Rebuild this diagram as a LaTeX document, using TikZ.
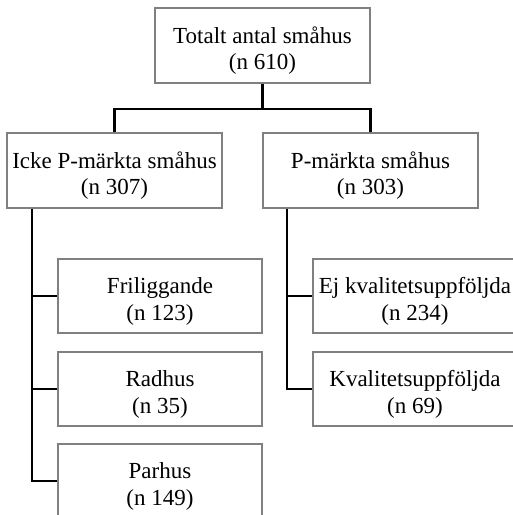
\documentclass[tikz,border=0pt]{standalone}
\usepackage{fontspec}
\setmainfont{Liberation Serif}
\newcommand\topstrut{\rule{0pt}{27pt}}
\begin{document}
\begin{tikzpicture}[x=1pt,y=-1pt,
  box/.style={draw=black!50, line width=1.6pt, fill=white, align=center, inner sep=0pt,
    font=\fontsize{23}{26.5}\selectfont},
  bigbox/.style={box, minimum width=215pt, minimum height=75pt},
  subbox/.style={box, minimum width=204pt, minimum height=74pt},
  conn/.style={draw=black, line width=2.4pt}]
\clip (0,0) rectangle (513,515);
\fill[white] (0,0) rectangle (513,515);
\node[bigbox] (top) at (262.5,45.5) {\topstrut Totalt antal småhus\\(n 610)};
\node[bigbox] (left) at (114.5,170.5) {\topstrut Icke P-märkta småhus\\(n 307)};
\node[bigbox] (right) at (370.5,170.5) {\topstrut P-märkta småhus\\(n 303)};
\node[subbox] (fril) at (160,296) {\topstrut Friliggande\\(n 123)};
\node[subbox] (radh) at (160,389) {\topstrut Radhus\\(n 35)};
\node[subbox] (parh) at (160,481) {\topstrut Parhus\\(n 149)};
\node[subbox] (ej) at (415,296) {\topstrut Ej kvalitetsuppföljda\\(n 234)};
\node[subbox] (kval) at (415,389) {\topstrut Kvalitetsuppföljda\\(n 69)};
\draw[conn] (top.south) -- ++(0,25) coordinate (j);
\draw[conn] (left.north) |- (j) -| (right.north);
\draw[conn] ([xshift=26pt]left.south west) |- (fril.west);
\draw[conn] ([xshift=26pt]left.south west) |- (radh.west);
\draw[conn] ([xshift=26pt]left.south west) |- (parh.west);
\draw[conn] ([xshift=25pt]right.south west) |- (ej.west);
\draw[conn] ([xshift=25pt]right.south west) |- (kval.west);
\end{tikzpicture}
\end{document}
